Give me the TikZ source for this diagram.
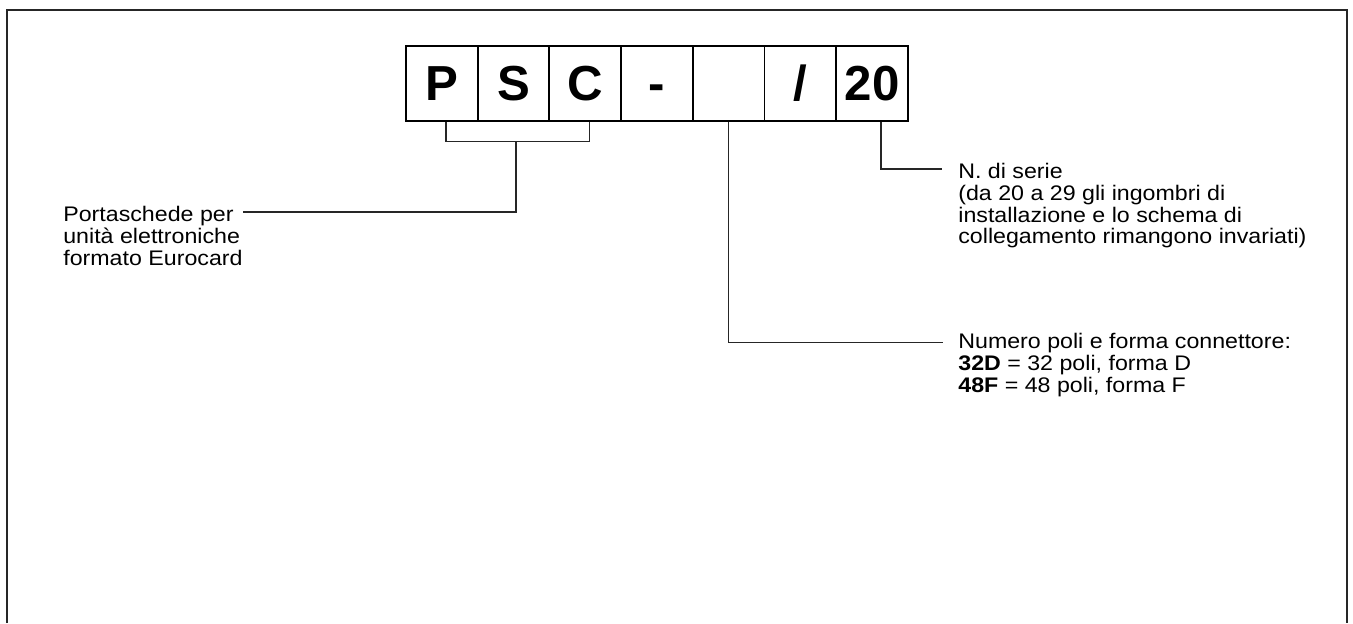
\documentclass[tikz,border=0pt]{standalone}
\usepackage{fontspec}
\setmainfont{Liberation Sans}
\newfontfamily\notefont[FakeStretch=1.1]{Liberation Sans}
\begin{document}
\begin{tikzpicture}[
  cell/.style={rectangle, draw=black, line width=1.1pt, minimum width=1.434cm, minimum height=1.494cm,
               inner sep=0pt, text height=20pt, text depth=0pt, font=\fontsize{28}{28}\selectfont\bfseries},
  lead/.style={line width=0.75pt, color=black!85},
  note/.style={anchor=north west, inner sep=0pt, align=left, font=\notefont\fontsize{12}{12.35}\selectfont},
  frame/.style={line width=0.9pt, color=black!85},
]
  \useasboundingbox (0,0) rectangle (27.06,-12.46);
  \draw[frame] (0.14,-12.46) -- (0.14,-0.2) -- (26.94,-0.2) -- (26.94,-12.46);

  % code boxes
  \node[cell] (p)      at (8.837,-1.667)  {P};
  \node[cell] (s)      at (10.271,-1.667) {S};
  \node[cell] (c)      at (11.705,-1.667) {C};
  \node[cell] (dash)   at (13.139,-1.667) {-};
  \node[cell] (poles)  at (14.573,-1.667) {};
  \node[cell] (slash)  at (16.007,-1.667) {/};
  \node[cell] (serial) at (17.441,-1.667) {20};

  % descriptions
  \node[note] (holder) at (1.26,-4.12) {Portaschede per\\unità elettroniche\\formato Eurocard};
  \node[note] (series) at (19.16,-3.26) {N. di serie\\(da 20 a 29 gli ingombri di\\installazione e lo schema di\\collegamento rimangono invariati)};
  \node[note] (polesnote) at (19.16,-6.66) {Numero poli e forma connettore:\\\textbf{32D} = 32 poli, forma D\\\textbf{48F} = 48 poli, forma F};

  \coordinate (bracket)    at (10.32,-2.836);
  \coordinate (holderend)  at (4.86,-4.24);
  \coordinate (seriesend)  at (18.83,-3.38);
  \coordinate (polesend)   at (18.854,-6.846);

  \draw[lead] ([xshift=0.08cm]p.south) |- (bracket) -| ([xshift=0.08cm]c.south);
  \draw[lead] (bracket) |- (holderend);
  \draw[lead] (poles.south) |- (polesend);
  \draw[lead] ([xshift=0.18cm]serial.south) |- (seriesend);
\end{tikzpicture}
\end{document}
